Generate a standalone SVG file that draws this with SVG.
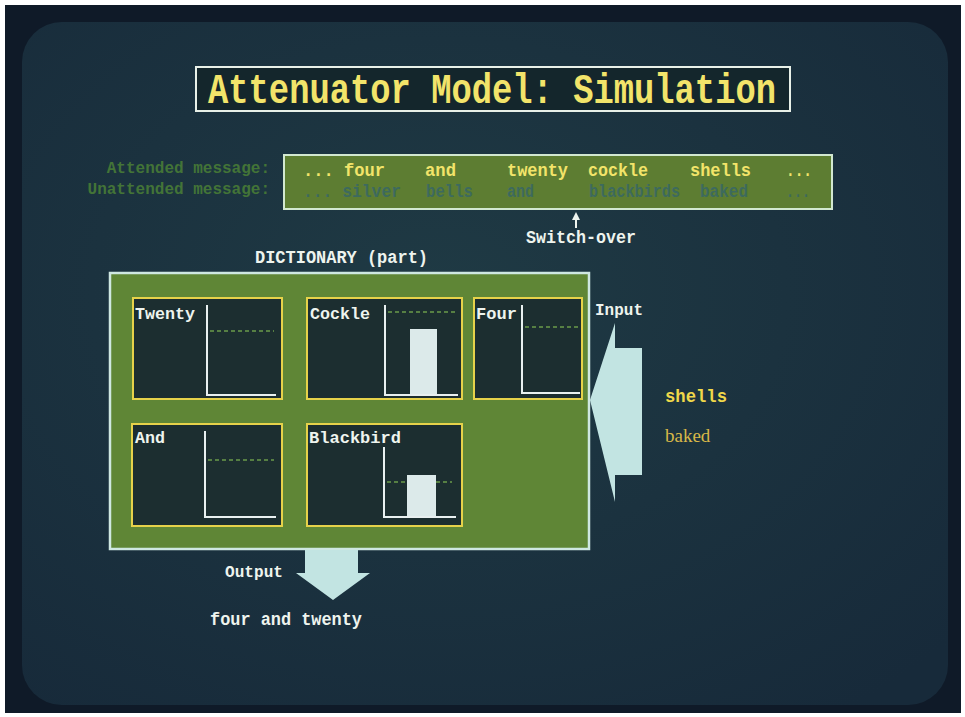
<svg xmlns="http://www.w3.org/2000/svg" width="965" height="717" viewBox="0 0 965 717">
<defs>
<style>
.t{font-family:"Liberation Mono","DejaVu Sans Mono",monospace;font-weight:bold}
.w{fill:#eef4ee}
.y{fill:#f2e46a}
.cell{fill:#1c2e30;stroke:#e6d24a;stroke-width:2}
.ax{fill:none;stroke:#e8f0f0;stroke-width:2}
.th{stroke:#6a9a4a;stroke-width:1.5;stroke-dasharray:4 3}
.bar{fill:#dceaea}
.arrow{fill:#c2e4e2}
</style>
<radialGradient id="scr" cx="0.45" cy="0.4" r="0.75">
<stop offset="0" stop-color="#1f3a44"/>
<stop offset="1" stop-color="#172a3a"/>
</radialGradient>
</defs>
<rect x="0" y="0" width="965" height="717" fill="#ffffff"/>
<rect x="5" y="5" width="956" height="708" fill="#0f1a28"/>
<rect x="22" y="22" width="926" height="683" rx="40" fill="url(#scr)"/>

<g id="title">
<rect x="196" y="67" width="594" height="44" fill="#14262c" stroke="#e8f0e8" stroke-width="2"/>
<text class="t y" x="208" y="103" font-size="42" textLength="568" lengthAdjust="spacingAndGlyphs">Attenuator Model: Simulation</text>
</g>

<g id="labels" fill="#437437">
<text class="t" x="270" y="173" font-size="16" text-anchor="end">Attended message:</text>
<text class="t" x="270" y="194" font-size="16" text-anchor="end">Unattended message:</text>
</g>

<g id="messages">
<rect x="284" y="155" width="548" height="54" fill="#5d7d32" stroke="#d2e8d0" stroke-width="2"/>
<g class="t y" font-size="19">
<text x="303" y="176" textLength="82" lengthAdjust="spacingAndGlyphs">... four</text>
<text x="425" y="176" textLength="31" lengthAdjust="spacingAndGlyphs">and</text>
<text x="507" y="176" textLength="61" lengthAdjust="spacingAndGlyphs">twenty</text>
<text x="588" y="176" textLength="60" lengthAdjust="spacingAndGlyphs">cockle</text>
<text x="690" y="176" textLength="61" lengthAdjust="spacingAndGlyphs">shells</text>
<text x="786" y="176" textLength="26" lengthAdjust="spacingAndGlyphs">...</text>
</g>
<g class="t" font-size="19" fill="#3d6a5e">
<text x="303" y="197" textLength="98" lengthAdjust="spacingAndGlyphs">... silver</text>
<text x="426" y="197" textLength="47" lengthAdjust="spacingAndGlyphs">bells</text>
<text x="507" y="197" textLength="27" lengthAdjust="spacingAndGlyphs">and</text>
<text x="589" y="197" textLength="91" lengthAdjust="spacingAndGlyphs">blackbirds</text>
<text x="700" y="197" textLength="48" lengthAdjust="spacingAndGlyphs">baked</text>
<text x="786" y="197" textLength="24" lengthAdjust="spacingAndGlyphs">...</text>
</g>
</g>

<g id="switchover">
<polygon points="576,212 572,220 580,220" fill="#eef4ee"/>
<line x1="576" y1="218" x2="576" y2="228" stroke="#eef4ee" stroke-width="2"/>
<text class="t w" x="526" y="243" font-size="18" textLength="110" lengthAdjust="spacingAndGlyphs">Switch-over</text>
</g>

<g id="dictionary">
<text class="t w" x="255" y="263" font-size="18" textLength="173" lengthAdjust="spacingAndGlyphs">DICTIONARY (part)</text>
<rect x="110" y="273" width="479" height="276" fill="#5f8636" stroke="#cfe8e2" stroke-width="2.5"/>
</g>

<g id="twenty">
<rect class="cell" x="133" y="298" width="149" height="101"/>
<line class="th" x1="210" y1="331" x2="274" y2="331"/>
<polyline class="ax" points="207,305 207,395 276,395"/>
<text class="t w" x="135" y="319" font-size="17" textLength="60" lengthAdjust="spacingAndGlyphs">Twenty</text>
</g>

<g id="cockle">
<rect class="cell" x="307" y="298" width="155" height="101"/>
<line class="th" x1="388" y1="312" x2="456" y2="312"/>
<rect class="bar" x="410" y="329" width="27" height="66"/>
<polyline class="ax" points="385,305 385,395 458,395"/>
<text class="t w" x="310" y="319" font-size="17" textLength="60" lengthAdjust="spacingAndGlyphs">Cockle</text>
</g>

<g id="four">
<rect class="cell" x="474" y="298" width="108" height="101"/>
<line class="th" x1="525" y1="327" x2="578" y2="327"/>
<polyline class="ax" points="522,305 522,393 580,393"/>
<text class="t w" x="476" y="319" font-size="17" textLength="41" lengthAdjust="spacingAndGlyphs">Four</text>
</g>

<g id="and">
<rect class="cell" x="132" y="424" width="150" height="102"/>
<line class="th" x1="208" y1="460" x2="274" y2="460"/>
<polyline class="ax" points="205,431 205,517 276,517"/>
<text class="t w" x="135" y="443" font-size="17" textLength="30" lengthAdjust="spacingAndGlyphs">And</text>
</g>

<g id="blackbird">
<rect class="cell" x="307" y="424" width="155" height="102"/>
<line class="th" x1="387" y1="482" x2="452" y2="482"/>
<rect class="bar" x="407" y="475" width="29" height="42"/>
<polyline class="ax" points="384,447 384,517 456,517"/>
<text class="t w" x="309" y="443" font-size="17" textLength="92" lengthAdjust="spacingAndGlyphs">Blackbird</text>
</g>

<g id="input">
<text class="t w" x="595" y="315" font-size="17" textLength="48" lengthAdjust="spacingAndGlyphs">Input</text>
<polygon class="arrow" points="590,400 615,323 615,348 642,348 642,475 615,475 615,502"/>
<text class="t" x="665" y="402" font-size="19" fill="#f0d84a" textLength="62" lengthAdjust="spacingAndGlyphs">shells</text>
<text x="665" y="442" font-size="19" fill="#d8b848" font-family="Liberation Serif, serif">baked</text>
</g>

<g id="output">
<polygon class="arrow" points="305,550 358,550 358,573 370,573 333,600 296,573 305,573"/>
<text class="t w" x="225" y="577" font-size="17" textLength="58" lengthAdjust="spacingAndGlyphs">Output</text>
<text class="t w" x="210" y="625" font-size="18" textLength="152" lengthAdjust="spacingAndGlyphs">four and twenty</text>
</g>
</svg>
